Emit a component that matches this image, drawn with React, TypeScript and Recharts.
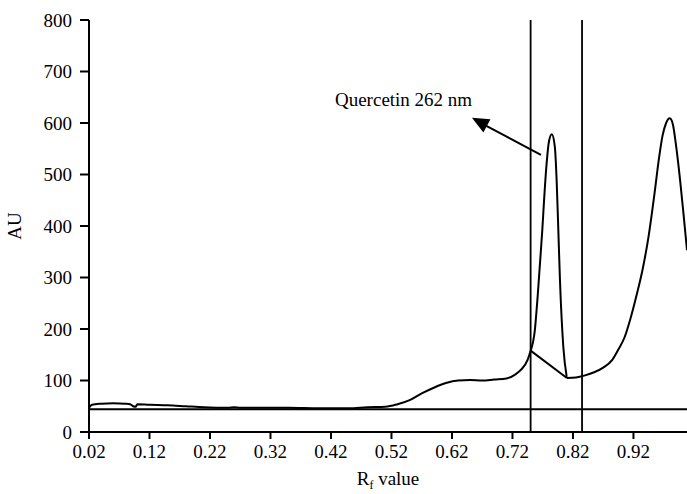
import { ComposedChart, Line, XAxis, YAxis, ReferenceLine, ReferenceDot, Label } from "recharts";

// Rf positions and absorbance (AU)
const traceRf = [
  0.02, 0.025, 0.04, 0.06, 0.08, 0.088, 0.093, 0.097, 0.1, 0.12, 0.15, 0.18, 0.21, 0.25, 0.26, 0.27, 0.3, 0.35,
  0.4, 0.45, 0.48, 0.51, 0.53, 0.55, 0.57, 0.59, 0.61, 0.63, 0.65, 0.67, 0.69, 0.71, 0.725, 0.735, 0.745, 0.75,
  0.81, 0.825, 0.84, 0.855, 0.87, 0.885, 0.895, 0.905, 0.915, 0.925, 0.935, 0.945, 0.955, 0.962, 0.968, 0.974,
  0.98, 0.985, 0.99, 0.997, 1.003, 1.0085,
];
const traceAU = [
  47, 53, 55, 56, 55, 54, 50, 49, 54, 53, 52, 50, 48, 47, 48, 47, 47, 47,
  46, 46, 48, 49, 54, 62, 75, 86, 95, 100, 101, 100, 102, 104, 112, 122, 140, 158,
  105, 106, 110, 116, 125, 140, 160, 183, 220, 265, 315, 380, 465, 530, 575, 600,
  609, 598, 560, 490, 420, 353,
];

// quercetin peak
const peakRf = [0.75, 0.757, 0.7616, 0.7655, 0.7693, 0.7726, 0.7765, 0.7803, 0.785, 0.79, 0.793, 0.7958, 0.7985, 0.804, 0.8096];
const peakAU = [158, 198, 263, 328, 392, 457, 522, 564, 578, 554, 489, 392, 295, 166, 107];

const xTicks = [0.02, 0.12, 0.22, 0.32, 0.42, 0.52, 0.62, 0.72, 0.82, 0.92];
const yTicks = [0, 100, 200, 300, 400, 500, 600, 700, 800];
const baselineAU = 44;
const markerRf = [0.75, 0.835];

const trace = traceRf.map((rf, i) => ({ rf, au: traceAU[i] }));
// the trace has a sharp corner at each end of the straight drop-line under the peak
const traceLeft = trace.filter((d) => d.rf <= 0.75);
const traceBridge = trace.filter((d) => d.rf >= 0.75 && d.rf <= 0.81);
const traceRight = trace.filter((d) => d.rf >= 0.81);
const peak = peakRf.map((rf, i) => ({ rf, au: peakAU[i] }));

const font = "'Liberation Serif', 'Times New Roman', serif";
const tickStyle = { fill: "#000", fontSize: 19, fontFamily: font };

const Arrowhead = (p: any) => {
  const a = (Math.atan2(-37, -69) * 180) / Math.PI;
  return (
    <polygon
      points="0,0 -17,-7.5 -17,7.5"
      fill="#000"
      transform={`translate(${p.cx},${p.cy}) rotate(${a})`}
    />
  );
};

const QLabel = (p: any) => (
  <text x={p.cx} y={p.cy} fontFamily={font} fontSize={19} fill="#000">
    Quercetin 262 nm
  </text>
);

const XTitle = (p: any) => {
  const vb = p.viewBox;
  const cx = vb.x + vb.width / 2;
  return (
    <text x={cx} y={485} textAnchor="middle" fontFamily={font} fontSize={19} fill="#000">
      R<tspan fontSize={12} dy={4}>f</tspan>
      <tspan dy={-4}> value</tspan>
    </text>
  );
};

const series = [traceLeft, traceBridge, traceRight, peak];

export default function App() {
  return (
    <div style={{ position: "absolute", left: 0, top: 0, background: "#fff" }}>
      <ComposedChart width={687} height={494} margin={{ top: 20, right: 0, bottom: 0, left: 0 }}>
        <XAxis
          type="number"
          dataKey="rf"
          domain={[0.02, 1.0085]}
          allowDataOverflow
          ticks={xTicks}
          tickFormatter={(v: number) => v.toFixed(2)}
          height={62}
          tickSize={7}
          tickMargin={6}
          tick={tickStyle}
          axisLine={{ stroke: "#000", strokeWidth: 2 }}
          tickLine={{ stroke: "#000", strokeWidth: 2 }}
        >
          <Label content={XTitle} />
        </XAxis>
        <YAxis
          type="number"
          domain={[0, 800]}
          ticks={yTicks}
          width={89}
          tickSize={9}
          tickMargin={8}
          tick={tickStyle}
          axisLine={{ stroke: "#000", strokeWidth: 2 }}
          tickLine={{ stroke: "#000", strokeWidth: 2 }}
        >
          <Label
            value="AU"
            angle={-90}
            position="insideLeft"
            offset={14}
            style={{ fontFamily: font, fontSize: 19, fill: "#000", textAnchor: "middle" }}
          />
        </YAxis>
        <ReferenceLine y={baselineAU} stroke="#000" strokeWidth={2} />
        {markerRf.map((x) => (
          <ReferenceLine key={x} x={x} stroke="#000" strokeWidth={1.8} />
        ))}
        {series.map((d, i) => (
          <Line
            key={i}
            data={d}
            dataKey="au"
            type={d === traceBridge ? "linear" : "monotone"}
            stroke="#000"
            strokeWidth={2}
            dot={false}
            isAnimationActive={false}
          />
        ))}
        <ReferenceLine
          segment={[
            { x: 0.767, y: 538 },
            { x: 0.676, y: 595 },
          ]}
          stroke="#000"
          strokeWidth={2}
        />
        <ReferenceDot x={0.653} y={610} shape={Arrowhead} />
        <ReferenceDot x={0.02 + (335 - 89) / 605} y={(432 - 106) / 0.515} shape={QLabel} />
      </ComposedChart>
    </div>
  );
}
